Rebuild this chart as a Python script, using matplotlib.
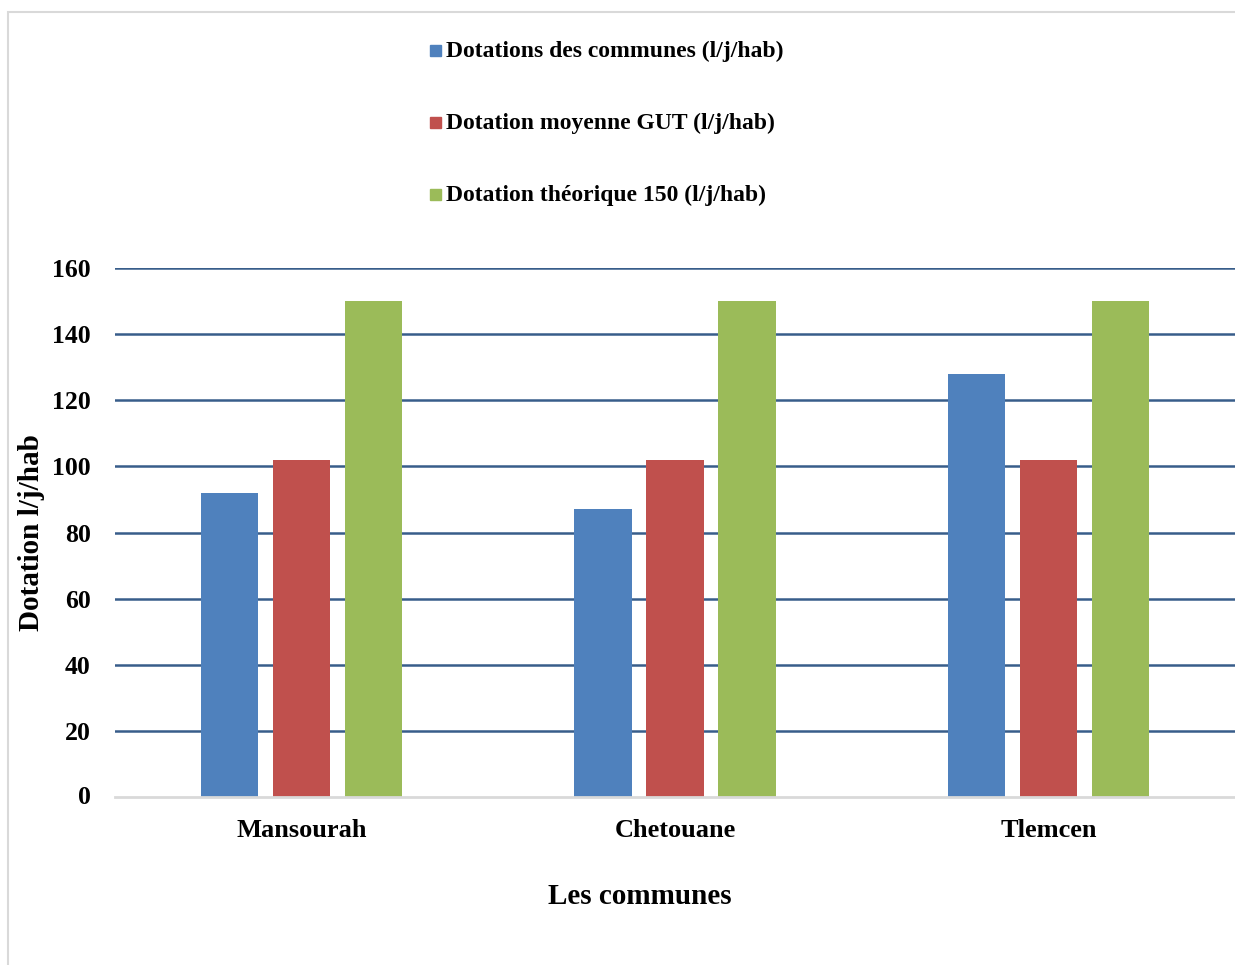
import matplotlib
matplotlib.use("Agg")
import matplotlib.pyplot as plt
from matplotlib.patches import Rectangle
import numpy as np

communes = ["Mansourah", "Chetouane", "Tlemcen"]
series_labels = ["Dotations des communes (l/j/hab)",
                 "Dotation moyenne GUT (l/j/hab)",
                 "Dotation théorique 150 (l/j/hab)"]
dotations_communes = [92, 87, 128]
dotation_moyenne_gut = [102, 102, 102]
dotation_theorique = [150, 150, 150]
yticks = [0, 20, 40, 60, 80, 100, 120, 140, 160]
colors = ["#4F81BD", "#C0504D", "#9BBB59"]

plt.rcParams['font.family'] = ['Liberation Serif', 'DejaVu Serif']
plt.rcParams['font.weight'] = 'bold'

W, H = 1235, 965
fig = plt.figure(figsize=(W / 100, H / 100), dpi=100)

# chart border
fig.patches.append(Rectangle((8 / W, -0.1), 1.2, 1 - 12 / H + 0.1, transform=fig.transFigure,
                             fill=False, edgecolor="#D9D9D9", linewidth=1.5))

ax = fig.add_axes([115 / W, 1 - 797 / H, (W - 115) / W, (797 - 268) / H])
x = np.arange(len(communes))
width = 0.153
offset = 0.193
for i, (vals, c) in enumerate(zip([dotations_communes, dotation_moyenne_gut, dotation_theorique], colors)):
    ax.bar(x + (i - 1) * offset, vals, width, color=c, zorder=3, edgecolor='none')

ax.set_xlim(-0.5, 2.5)
ax.set_ylim(0, 160)
ax.set_yticks(yticks[1:])
ax.set_yticklabels([str(v) for v in yticks[1:]])
ax.tick_params(axis='y', length=0, pad=17.5, labelsize=18.5)
ax.tick_params(axis='x', length=0, pad=16, labelsize=19)
ax.set_xticks(x)
ax.set_xticklabels(communes, fontweight='bold')
for lab in ax.get_yticklabels():
    lab.set_fontweight('bold')
ax.text(-0.5 - 24 / 373.3, 0, "0", transform=ax.transData, ha='right', va='center',
        fontsize=18.5, fontweight='bold')

ax.grid(axis='y', color="#385D8A", linewidth=1.8, zorder=0)
for s in ['top', 'right', 'left']:
    ax.spines[s].set_visible(False)
ax.spines['bottom'].set_color("#D9D9D9")
ax.spines['bottom'].set_linewidth(2)
ax.spines['bottom'].set_zorder(4)

fig.text(640 / W, 1 - 897 / H, "Les communes", ha='center', va='center', fontsize=21,
         fontweight='bold')
fig.text(32 / W, 1 - 533 / H, "Dotation l/j/hab", ha='center', va='center', rotation=90,
         fontsize=21, fontweight='bold')

legend_y = [51, 123, 195]
for lab, c, yy in zip(series_labels, colors, legend_y):
    fig.patches.append(Rectangle((430 / W, 1 - (yy + 5) / H), 11 / W, 11 / H,
                                 transform=fig.transFigure, color=c))
    fig.text(446 / W, 1 - yy / H, lab, ha='left', va='center', fontsize=17, fontweight='bold')

fig.savefig("out.png", dpi=100)
